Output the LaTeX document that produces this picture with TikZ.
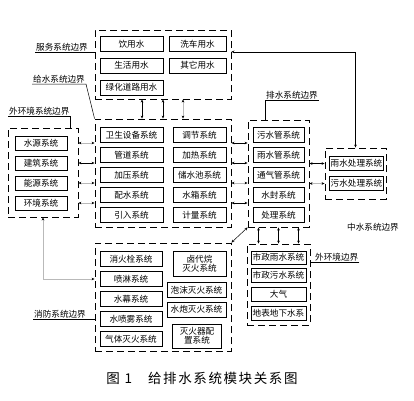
\documentclass[tikz,border=0pt]{standalone}
\usepackage{fontspec}
\newfontfamily\cjk{Noto Sans CJK SC}
\newfontfamily\cjkcap[LetterSpace=12]{Noto Sans CJK SC}
\usetikzlibrary{arrows.meta}
\definecolor{faint}{RGB}{185,185,185}

\begin{document}
\begin{tikzpicture}[x=1pt,y=-1pt,
  bnd/.style={draw,line width=0.9pt,dash pattern=on 7pt off 4pt,inner sep=0pt},
  box/.style={draw,line width=0.6pt,inner sep=0pt,minimum height=15pt,
    font=\cjk\fontsize{8.6}{9.5}\selectfont},
  tag/.style={inner sep=1pt,font=\cjk\fontsize{8.6}{9.5}\selectfont},
  lnk/.style={{Stealth[length=3pt,width=2.6pt,color=black]}-{Stealth[length=3pt,width=2.6pt,color=black]},line width=0.5pt},
  dim/.style={lnk,draw=faint}]
  \useasboundingbox (0,0) rectangle (414,400);
  % boundaries
  \node[bnd,minimum width=136pt,minimum height=69pt] (sv) at (163,64.5) {};
  \node[bnd,minimum width=136pt,minimum height=108pt] (gs) at (163,173) {};
  \node[bnd,minimum width=70pt,minimum height=89pt] (hj) at (43,172.5) {};
  \node[bnd,minimum width=61pt,minimum height=107pt] (ps) at (278.5,173.5) {};
  \node[bnd,minimum width=61pt,minimum height=51pt] (zs) at (355.5,173.5) {};
  \node[bnd,minimum width=136pt,minimum height=108pt] (xf) at (163,297) {};
  \node[bnd,minimum width=63pt,minimum height=81pt] (hw) at (278.5,284.5) {};
  % service
  \node[box,minimum width=63pt] (yin) at (131.5,44) {饮用水};
  \node[box,minimum width=57pt] (xiche) at (197.5,44) {洗车用水};
  \node[box,minimum width=63pt] (shh) at (131.5,65.5) {生活用水};
  \node[box,minimum width=57pt] (qita) at (197.5,65.5) {其它用水};
  \node[box,minimum width=63pt] (lvh) at (131.5,87.5) {绿化道路用水};
  % supply
  \node[box,minimum width=63pt] (wsb) at (131.5,135) {卫生设备系统};
  \node[box,minimum width=63pt] (gd) at (131.5,155) {管道系统};
  \node[box,minimum width=63pt] (jy) at (131.5,175) {加压系统};
  \node[box,minimum width=63pt] (psys) at (131.5,195) {配水系统};
  \node[box,minimum width=63pt] (yr) at (131.5,215) {引入系统};
  \node[box,minimum width=53pt] (tj) at (199.5,135) {调节系统};
  \node[box,minimum width=53pt] (jr) at (199.5,155) {加热系统};
  \node[box,minimum width=53pt] (csc) at (199.5,175) {储水池系统};
  \node[box,minimum width=53pt] (sx) at (199.5,195) {水箱系统};
  \node[box,minimum width=53pt] (jl) at (199.5,215) {计量系统};
  % outer environment
  \node[box,minimum width=52pt,minimum height=14pt] (sy) at (41,143) {水源系统};
  \node[box,minimum width=52pt,minimum height=14pt] (jz) at (41,163) {建筑系统};
  \node[box,minimum width=52pt,minimum height=14pt] (ny) at (41,183) {能源系统};
  \node[box,minimum width=52pt,minimum height=14pt] (hjs) at (41,203) {环境系统};
  % drainage
  \node[box,minimum width=51pt] (wsg) at (278.5,135) {污水管系统};
  \node[box,minimum width=51pt] (ysg) at (278.5,155) {雨水管系统};
  \node[box,minimum width=51pt] (tqg) at (278.5,175) {通气管系统};
  \node[box,minimum width=51pt] (sf) at (278.5,195) {水封系统};
  \node[box,minimum width=51pt] (cl) at (278.5,215) {处理系统};
  % reclaimed water
  \node[box,minimum width=54pt,minimum height=14pt] (yscl) at (356.5,163.5) {雨水处理系统};
  \node[box,minimum width=54pt,minimum height=14pt] (wscl) at (356.5,183.5) {污水处理系统};
  % fire
  \node[box,minimum width=62pt] (xhs) at (131,259) {消火栓系统};
  \node[box,minimum width=62pt] (pl) at (131,279) {喷淋系统};
  \node[box,minimum width=62pt] (sm) at (131,299) {水幕系统};
  \node[box,minimum width=62pt] (spw) at (131,319) {水喷雾系统};
  \node[box,minimum width=62pt] (qt) at (131,339) {气体灭火系统};
  \node[box,minimum width=53pt,minimum height=25pt,align=center] (ldw) at (199.5,263.5) {卤代烷\\灭火系统};
  \node[box,minimum width=59pt] (pm) at (196.5,290) {泡沫灭火系统};
  \node[box,minimum width=59pt] (sp) at (196.5,309.5) {水炮灭火系统};
  \node[box,minimum width=49pt,minimum height=24pt,align=center] (mhq) at (197,336) {灭火器配\\置系统};
  % outside
  \node[box,minimum width=55pt,minimum height=13pt] (szy) at (278.5,257.5) {市政雨水系统};
  \node[box,minimum width=55pt,minimum height=14pt] (szw) at (278.5,275.5) {市政污水系统};
  \node[box,minimum width=55pt,minimum height=14pt] (dq) at (278.5,294.5) {大气};
  \node[box,minimum width=55pt,minimum height=14pt] (db) at (278.5,313.5) {地表地下水系};
  % labels
  \node[tag,anchor=south west] (lsv) at (35,52) {服务系统边界};
  \draw[line width=0.5pt] (lsv.south west) -- (sv.west |- lsv.south);
  \node[tag,anchor=south west] (lgs) at (32,84) {给水系统边界};
  \draw[line width=0.5pt] (lgs.south west) -- (lgs.south east) -- (gs.north west);
  \node[tag,anchor=south west] (lhj) at (8,116) {外环境系统边界};
  \draw[line width=0.5pt] (lhj.south west) -- (lhj.south east) -- (lhj.south east |- hj.north);
  \node[tag,anchor=south west] (lps) at (265,100) {排水系统边界};
  \draw[line width=0.5pt] (lps.south east) -- (lps.south west) -- (lps.south west |- ps.north);
  \node[tag] (lzs) at (373,227) {中水系统边界};
  \node[tag,anchor=south west] (lxf) at (33,319) {消防系统边界};
  \draw[line width=0.5pt] (lxf.south west) -- (xf.west |- lxf.south);
  \node[tag,anchor=south west] (lhw) at (314,262) {外环境边界};
  \draw[line width=0.5pt] (lhw.south east) -- (hw.east |- lhw.south);
  % links
  \draw[lnk] ([xshift=-21pt]sv.south) -- ([xshift=-21pt]gs.north);
  \draw[lnk] (sv.south) -- (gs.north);
  \draw[dim] ([xshift=20pt]sv.south) -- ([xshift=20pt]gs.north);
  \draw[dim] (hj.east |- sy) -- (gs.west |- sy);
  \draw[lnk] (hj.east |- jz) -- (gs.west |- jz);
  \draw[dim] (hj.east |- ny) -- (gs.west |- ny);
  \draw[dim] (hj.east |- hjs) -- (gs.west |- hjs);
  \draw[lnk] (gs.east |- sy) -- (ps.west |- sy);
  \draw[lnk] (gs.east |- jz) -- (ps.west |- jz);
  \draw[dim] (gs.east |- ny) -- (ps.west |- ny);
  \draw[lnk] (gs.east |- hjs) -- (ps.west |- hjs);
  \draw[lnk] (ps.east |- yscl) -- (zs.west |- yscl);
  \draw[dim] (ps.east |- wscl) -- (zs.west |- wscl);
  \draw[lnk] (zs.north) |- (xiche.south -| sv.east);
  \draw[dim] (hj.south) |- (xf.west |- pl);
  \draw[lnk] (xf.north east) -- (ps.south west);
  \draw[lnk] ([xshift=-20pt]ps.south) -- ([xshift=-20pt]hw.north);
  \draw[lnk] (ps.south) -- (hw.north);
  \draw[lnk] ([xshift=20pt]ps.south) -- ([xshift=20pt]hw.north);
  % caption
  \node[font=\cjkcap\fontsize{13.5}{16}\selectfont] (cap) at (202,378) {图 1\hspace{16pt}给排水系统模块关系图};
\end{tikzpicture}
\end{document}
